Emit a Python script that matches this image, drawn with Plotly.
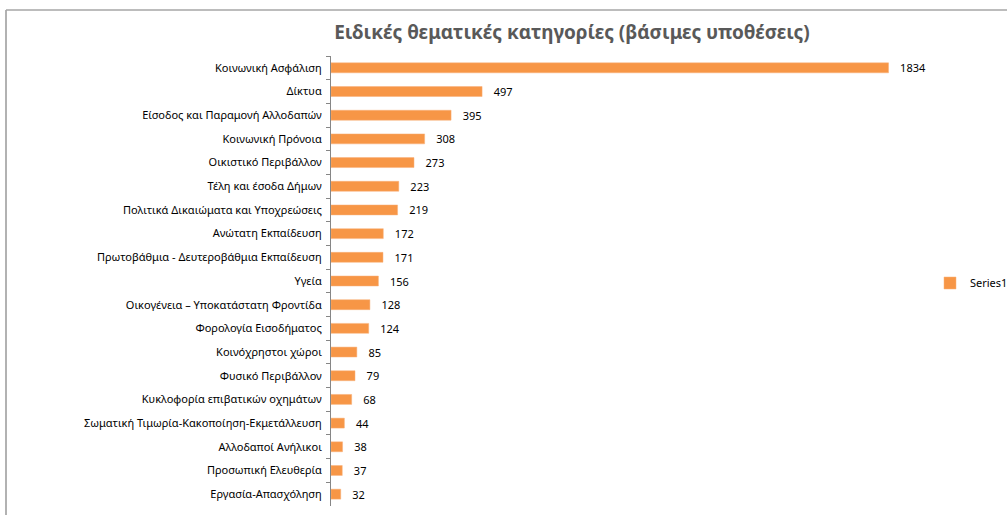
import plotly.graph_objects as go

categories = [
    "Κοινωνική Ασφάλιση",
    "Δίκτυα",
    "Είσοδος και Παραμονή Αλλοδαπών",
    "Κοινωνική Πρόνοια",
    "Οικιστικό Περιβάλλον",
    "Τέλη και έσοδα Δήμων",
    "Πολιτικά Δικαιώματα και Υποχρεώσεις",
    "Ανώτατη Εκπαίδευση",
    "Πρωτοβάθμια - Δευτεροβάθμια Εκπαίδευση",
    "Υγεία",
    "Οικογένεια – Υποκατάστατη Φροντίδα",
    "Φορολογία Εισοδήματος",
    "Κοινόχρηστοι χώροι",
    "Φυσικό Περιβάλλον",
    "Κυκλοφορία επιβατικών οχημάτων",
    "Σωματική Τιμωρία-Κακοποίηση-Εκμετάλλευση",
    "Αλλοδαποί Ανήλικοι",
    "Προσωπική Ελευθερία",
    "Εργασία-Απασχόληση",
]
values = [1834, 497, 395, 308, 273, 223, 219, 172, 171, 156,
          128, 124, 85, 79, 68, 44, 38, 37, 32]
series_name = "Series1"
title_text = "Ειδικές θεματικές κατηγορίες (βάσιμες υποθέσεις)"

W, H = 1007, 515
L, R, T, B = 331, 68, 56, 9
plot_w = W - L - R
plot_h = H - T - B

FONT = "Noto Sans"

fig = go.Figure()
fig.add_trace(go.Bar(
    x=values,
    y=categories,
    orientation="h",
    name=series_name,
    marker=dict(color="#F79646", line=dict(color="#F9B07A", width=0.5)),
    texttemplate="   %{x}",
    textposition="outside",
    constraintext="none",
    cliponaxis=False,
    textfont=dict(family=FONT, size=11, color="#000000"),
    showlegend=True,
))


def px_x(p):
    return (p - L) / plot_w


def px_y(p):
    return (H - B - p) / plot_h


# chart frame (left and top edges)
fig.add_shape(type="line", xref="paper", yref="paper",
              x0=px_x(6), x1=px_x(6), y0=px_y(10), y1=px_y(530),
              line=dict(color="#7f7f7f", width=1.2))
fig.add_shape(type="line", xref="paper", yref="paper",
              x0=px_x(6), x1=px_x(1020), y0=px_y(10), y1=px_y(10),
              line=dict(color="#a6a6a6", width=1.5))

fig.update_layout(
    width=W, height=H,
    margin=dict(l=L, r=R, t=T, b=B, autoexpand=False),
    paper_bgcolor="white",
    plot_bgcolor="white",
    bargap=0.58,
    font=dict(family=FONT, size=11, color="#000000"),
    title=dict(
        text=title_text,
        font=dict(family=FONT, size=19, color="#595959", weight="bold"),
        x=572 / W, xref="container", xanchor="center",
        y=1 - 32 / H, yref="container", yanchor="middle",
    ),
    legend=dict(
        x=930 / W, xref="container", xanchor="left",
        y=1 - 283 / H, yref="container", yanchor="middle",
        font=dict(family=FONT, size=11, color="#000000"),
        bgcolor="rgba(0,0,0,0)",
    ),
    xaxis=dict(
        range=[0, 2000],
        showgrid=False, zeroline=False, showticklabels=False,
        showline=False, ticks="",
    ),
    yaxis=dict(
        type="category",
        autorange="reversed",
        showline=True, linecolor="#868686", linewidth=1,
        ticks="outside", tickson="boundaries", ticklen=4,
        tickcolor="#868686",
        ticklabelstandoff=6,
        showgrid=False, zeroline=False,
        tickfont=dict(family=FONT, size=11, color="#000000"),
    ),
)

fig.write_html("out.html")
